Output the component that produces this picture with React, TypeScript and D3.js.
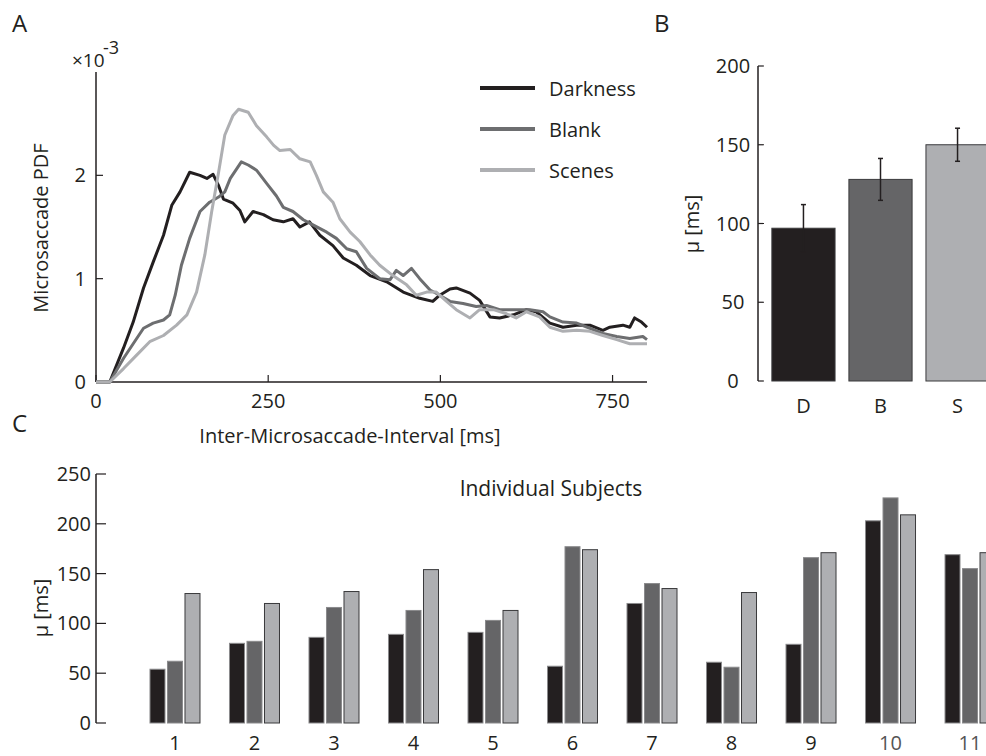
import * as d3 from "d3";

// Panel A: microsaccade inter-interval PDFs (values in units of 1e-3)
const darkness: [number, number][] = [
  [0, 0], [20, 0], [40, 0.33], [54, 0.58], [69, 0.91], [83, 1.16], [98, 1.42], [110, 1.71],
  [122, 1.84], [136, 2.03], [151, 2.0], [161, 1.97], [170, 2.01], [178, 1.9], [185, 1.77],
  [199, 1.73], [209, 1.66], [216, 1.55], [228, 1.65], [243, 1.62], [257, 1.57], [272, 1.55],
  [286, 1.58], [296, 1.5], [310, 1.55], [325, 1.42], [344, 1.32], [359, 1.2], [378, 1.13],
  [398, 1.03], [422, 0.97], [446, 0.87], [470, 0.81], [489, 0.78], [499, 0.84], [514, 0.9],
  [523, 0.91], [543, 0.86], [557, 0.79], [572, 0.63], [586, 0.62], [606, 0.65], [625, 0.7],
  [639, 0.68], [659, 0.57], [678, 0.53], [698, 0.55], [717, 0.55], [736, 0.5], [746, 0.53],
  [765, 0.55], [775, 0.53], [782, 0.62], [792, 0.58], [800, 0.53],
];
const blank: [number, number][] = [
  [0, 0], [20, 0], [40, 0.23], [54, 0.37], [69, 0.52], [83, 0.57], [98, 0.6], [107, 0.65],
  [115, 0.84], [124, 1.13], [136, 1.39], [151, 1.65], [165, 1.74], [178, 1.79], [187, 1.84],
  [195, 1.97], [204, 2.06], [211, 2.13], [221, 2.1], [233, 2.05], [248, 1.92], [262, 1.8],
  [272, 1.69], [286, 1.65], [301, 1.57], [315, 1.52], [335, 1.45], [349, 1.39], [364, 1.29],
  [378, 1.26], [393, 1.1], [412, 1.0], [427, 0.99], [436, 1.08], [446, 1.03], [458, 1.1],
  [470, 1.0], [485, 0.89], [499, 0.84], [514, 0.78], [533, 0.76], [552, 0.73], [567, 0.74],
  [586, 0.7], [610, 0.7], [630, 0.7], [649, 0.68], [659, 0.63], [678, 0.58], [698, 0.57],
  [717, 0.52], [736, 0.47], [756, 0.44], [775, 0.42], [794, 0.44], [800, 0.41],
];
const scenes: [number, number][] = [
  [0, 0], [20, 0], [40, 0.13], [59, 0.26], [78, 0.39], [98, 0.45], [117, 0.55], [132, 0.65],
  [146, 0.87], [158, 1.23], [168, 1.65], [178, 2.03], [187, 2.39], [199, 2.58], [207, 2.64],
  [221, 2.61], [233, 2.48], [248, 2.37], [258, 2.29], [267, 2.24], [282, 2.25], [296, 2.16],
  [311, 2.13], [320, 2.0], [330, 1.84], [344, 1.74], [354, 1.58], [369, 1.45], [383, 1.36],
  [398, 1.23], [412, 1.13], [431, 1.03], [451, 0.94], [465, 0.84], [480, 0.87], [494, 0.87],
  [509, 0.78], [523, 0.7], [543, 0.62], [557, 0.7], [577, 0.7], [596, 0.66], [610, 0.62],
  [625, 0.68], [644, 0.63], [659, 0.53], [678, 0.49], [698, 0.5], [717, 0.49], [736, 0.45],
  [756, 0.41], [775, 0.37], [794, 0.37], [800, 0.37],
];
const seriesNames = ["Darkness", "Blank", "Scenes"];
const xTicksA = [0, 250, 500, 750];
const yTicksA = [0, 1, 2];

// Panel B: mean interval per condition
const conditions = ["D", "B", "S"];
const means = [97, 128, 150];
const errors = [15, 13.3, 10.5];
const yTicksB = [0, 50, 100, 150, 200];

// Panel C: individual subjects
const subjects = ["1", "2", "3", "4", "5", "6", "7", "8", "9", "10", "11"];
const subjDarkness = [54, 80, 86, 89, 91, 57, 120, 61, 79, 203, 169];
const subjBlank = [62, 82, 116, 113, 103, 177, 140, 56, 166, 226, 155];
const subjScenes = [130, 120, 132, 154, 113, 174, 135, 131, 171, 209, 171];
const yTicksC = [0, 50, 100, 150, 200, 250];

const COLORS = ["#231f20", "#6d6e70", "#aeafb2"];
const BAR_COLORS = ["#231f20", "#656567", "#aeafb2"];
const INK = "#231f20";
const FONT = "'Open Sans', sans-serif";
const FS = 20;

export default function App() {
  // Panel A scales
  const xA = d3.scaleLinear().domain([0, 800]).range([96, 647]);
  const yA = d3.scaleLinear().domain([0, 3]).range([382, 72]);
  const line = d3
    .line<[number, number]>()
    .x((d) => xA(d[0]))
    .y((d) => yA(d[1]));
  const curves = [darkness, blank, scenes];

  // Panel B scales
  const xB = d3.scaleBand<string>().domain(conditions).range([758, 1003]).paddingInner(0.18).paddingOuter(0.18);
  const yB = d3.scaleLinear().domain([0, 200]).range([381, 66]);

  // Panel C scales
  const xC = d3.scaleBand<string>().domain(subjects).range([96, 1049]).paddingInner(0.371).paddingOuter(0.679);
  const xSub = d3.scaleBand<string>().domain(conditions).range([0, xC.bandwidth()]).paddingInner(0.143);
  const yC = d3.scaleLinear().domain([0, 250]).range([723, 474]);
  const subjSeries = [subjDarkness, subjBlank, subjScenes];

  return (
    <svg
      width={986}
      height={756}
      style={{ position: "absolute", left: 0, top: 0, background: "#fff" }}
      fontFamily={FONT}
      fill={INK}
    >
      {/* panel letters */}
      <text x={12} y={32} fontSize={24}>A</text>
      <text x={654} y={32} fontSize={24}>B</text>
      <text x={12} y={432} fontSize={24}>C</text>

      {/* ---------- Panel A ---------- */}
      <g>
        <line x1={xA(0)} x2={xA(0)} y1={yA(3)} y2={yA(0)} stroke={INK} strokeWidth={1.5} />
        <line x1={xA(0)} x2={xA(800)} y1={yA(0)} y2={yA(0)} stroke={INK} strokeWidth={1.5} />
        {yTicksA.map((t) => (
          <g key={t}>
            <line x1={xA(0)} x2={xA(0) + 7} y1={yA(t)} y2={yA(t)} stroke={INK} strokeWidth={1.2} />
            <text x={86} y={yA(t) + 7} fontSize={FS} textAnchor="end">{t}</text>
          </g>
        ))}
        {xTicksA.map((t) => (
          <g key={t}>
            <line x1={xA(t)} x2={xA(t)} y1={yA(0)} y2={yA(0) - 7} stroke={INK} strokeWidth={1.2} />
            <text x={xA(t)} y={408} fontSize={FS} textAnchor="middle">{t}</text>
          </g>
        ))}
        <text x={72} y={67} fontSize={19}>×10</text>
        <text x={103} y={54} fontSize={18}>-3</text>
        <text transform={`translate(48,228) rotate(-90)`} fontSize={FS} textAnchor="middle">
          Microsaccade PDF
        </text>
        <text x={350} y={443} fontSize={FS} textAnchor="middle">
          Inter-Microsaccade-Interval [ms]
        </text>
        {curves.map((c, i) => (
          <path key={i} d={line(c) ?? ""} fill="none" stroke={COLORS[i]} strokeWidth={3} strokeLinejoin="round" />
        ))}
        {/* legend */}
        {seriesNames.map((n, i) => (
          <g key={n} transform={`translate(480,${88 + i * 41})`}>
            <line x1={0} x2={55} y1={0} y2={0} stroke={COLORS[i]} strokeWidth={4} />
            <text x={69} y={8} fontSize={FS}>{n}</text>
          </g>
        ))}
      </g>

      {/* ---------- Panel B ---------- */}
      <g>
        <line x1={758} x2={758} y1={yB(200)} y2={yB(0)} stroke={INK} strokeWidth={1.5} />
        {yTicksB.map((t) => (
          <g key={t}>
            <line x1={758} x2={764} y1={yB(t)} y2={yB(t)} stroke={INK} strokeWidth={1.2} />
            <text x={733} y={yB(t) + 7} fontSize={FS} textAnchor="middle">{t}</text>
          </g>
        ))}
        <text transform={`translate(699,224) rotate(-90)`} fontSize={FS} textAnchor="middle">
          μ [ms]
        </text>
        {conditions.map((c, i) => {
          const x0 = xB(c) ?? 0;
          const cx = x0 + xB.bandwidth() / 2;
          return (
            <g key={c}>
              <rect
                x={x0}
                y={yB(means[i])}
                width={xB.bandwidth()}
                height={yB(0) - yB(means[i])}
                fill={BAR_COLORS[i]}
                stroke="#3a3a3c"
                strokeWidth={1}
              />
              <line x1={cx} x2={cx} y1={yB(means[i] + errors[i])} y2={yB(means[i] - errors[i])} stroke={INK} strokeWidth={1.5} />
              <line x1={cx - 2.5} x2={cx + 2.5} y1={yB(means[i] + errors[i])} y2={yB(means[i] + errors[i])} stroke={INK} strokeWidth={1.5} />
              <line x1={cx - 2.5} x2={cx + 2.5} y1={yB(means[i] - errors[i])} y2={yB(means[i] - errors[i])} stroke={INK} strokeWidth={1.5} />
              <text x={cx} y={413} fontSize={FS} textAnchor="middle">{c}</text>
            </g>
          );
        })}
      </g>

      {/* ---------- Panel C ---------- */}
      <g>
        <line x1={96} x2={96} y1={yC(250)} y2={yC(0)} stroke={INK} strokeWidth={1.5} />
        {yTicksC.map((t) => (
          <g key={t}>
            <line x1={96} x2={106} y1={yC(t)} y2={yC(t)} stroke={INK} strokeWidth={1.2} />
            <text x={91} y={yC(t) + 7} fontSize={FS} textAnchor="end">{t}</text>
          </g>
        ))}
        <text transform={`translate(48,608) rotate(-90)`} fontSize={FS} textAnchor="middle">
          μ [ms]
        </text>
        <text x={551} y={496} fontSize={21} textAnchor="middle">Individual Subjects</text>
        {subjects.map((s, gi) => {
          const gx = xC(s) ?? 0;
          return (
            <g key={s} transform={`translate(${gx},0)`}>
              {conditions.map((c, ci) => {
                const v = subjSeries[ci][gi];
                return (
                  <rect
                    key={c}
                    x={xSub(c) ?? 0}
                    y={yC(v)}
                    width={xSub.bandwidth()}
                    height={yC(0) - yC(v)}
                    fill={BAR_COLORS[ci]}
                    stroke={ci === 2 ? "#3a3a3c" : "#8a8a8c"}
                    strokeWidth={1}
                  />
                );
              })}
              <text
                x={xC.bandwidth() / 2}
                y={750}
                fontSize={FS}
                textAnchor="middle"
                fill={gi >= 9 ? "#555" : INK}
              >
                {s}
              </text>
            </g>
          );
        })}
      </g>
    </svg>
  );
}
